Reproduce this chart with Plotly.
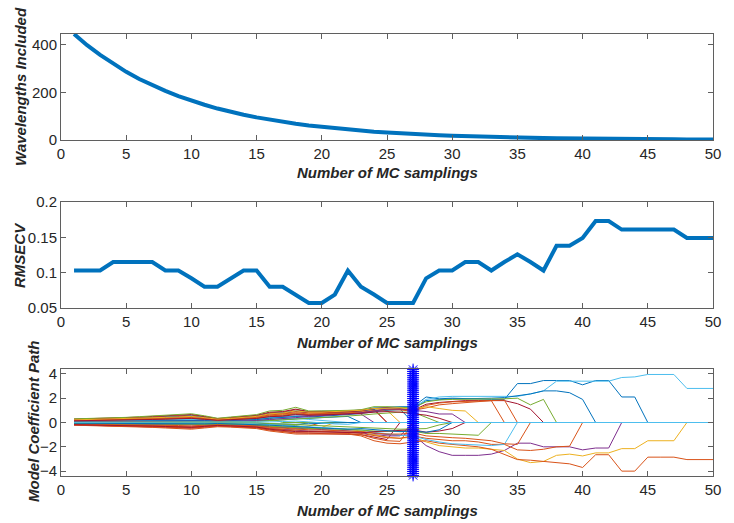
import numpy as np
import plotly.graph_objects as go

# ---------------- data ----------------
runs = list(range(1, 51))
x_ticks = list(range(0, 51, 5))

wavelengths_included = [445, 398, 357, 320, 286, 256, 230, 206, 184, 165,
                        148, 132, 118, 106, 95, 85, 76, 68, 61, 55,
                        49, 44, 39, 35, 32, 28, 25, 23, 20, 18,
                        16, 15, 13, 12, 10, 9, 8, 7, 7, 6,
                        5, 5, 4, 4, 3, 3, 3, 2, 2, 2]

rmsecv = [0.103, 0.103, 0.103, 0.115, 0.115, 0.115, 0.115, 0.103, 0.103, 0.092,
          0.080, 0.080, 0.092, 0.103, 0.103, 0.080, 0.080, 0.069, 0.057, 0.057,
          0.069, 0.103, 0.080, 0.069, 0.057, 0.057, 0.057, 0.092, 0.103, 0.103,
          0.115, 0.115, 0.103, 0.115, 0.126, 0.115, 0.103, 0.138, 0.138, 0.149,
          0.173, 0.173, 0.161, 0.161, 0.161, 0.161, 0.161, 0.149, 0.149, 0.149]

optimal_run = 27

# coefficient paths: values until the variable is eliminated (then it is 0)
# band variables eliminated before the optimal run
coef_b1 = [0.04, 0.05, 0.05, 0.06, 0.07, 0.08, 0.09, 0.10, 0.11, 0.12, 0.09, 0.06, 0.08, 0.10, 0.12, 0.20, 0.22, 0.30, 0.35, 0.40, 0.45, 0.50]
coef_b2 = [0.26, 0.28, 0.30, 0.33, 0.36, 0.40, 0.45, 0.50, 0.55, 0.60, 0.47, 0.30, 0.38, 0.46, 0.55, 0.80, 0.85, 1.05, 0.88, 0.88, 0.90, 0.95, 1.00, 1.05]
coef_b3 = [-0.14, -0.15, -0.17, -0.19, -0.21, -0.23, -0.26, -0.29, -0.32, -0.35, -0.28, -0.20, -0.24, -0.28, -0.32, -0.45, -0.52, -0.60, -0.50, -0.40]
coef_b4 = [0.10, 0.11, 0.12, 0.14, 0.15, 0.17, 0.19, 0.21, 0.23, 0.25, 0.20, 0.14, 0.18, 0.22, 0.27, 0.40, 0.45, 0.55, 0.60, 0.65, 0.70, 0.75, 0.70]
coef_b5 = [-0.04, -0.04, -0.05, -0.05, -0.06, -0.07, -0.08, -0.08, -0.09, -0.10, -0.08, -0.06, -0.07, -0.09, -0.11, -0.18, -0.22, -0.25]
coef_b6 = [0.07, 0.08, 0.09, 0.10, 0.11, 0.12, 0.13, 0.15, 0.16, 0.18, 0.14, 0.10, 0.12, 0.15, 0.18, 0.28, 0.30, 0.35, 0.25, 0.15, 0.10]
coef_b7 = [-0.20, -0.22, -0.24, -0.26, -0.29, -0.32, -0.35, -0.39, -0.43, -0.47, -0.38, -0.30, -0.34, -0.38, -0.44, -0.62, -0.75, -0.85, -0.88, -0.90, -0.90, -0.92, -1.00, -1.20, -1.40]
coef_b8 = [0.24, 0.26, 0.28, 0.30, 0.33, 0.37, 0.41, 0.45, 0.50, 0.54, 0.43, 0.28, 0.36, 0.44, 0.52, 0.75, 0.80, 0.95, 0.90, 0.92, 0.92, 0.95, 1.00, 1.20, 1.20, 1.10]
coef_b9 = [-0.10, -0.10, -0.11, -0.12, -0.13, -0.14, -0.15, -0.17, -0.19, -0.21, -0.17, -0.12, -0.15, -0.18, -0.22, -0.35, -0.40, -0.45, -0.30]
coef_b10 = [0.16, 0.17, 0.19, 0.21, 0.23, 0.26, 0.29, 0.32, 0.35, 0.38, 0.30, 0.21, 0.27, 0.33, 0.40, 0.60, 0.65, 0.78, 0.75, 0.78, 0.80, 0.85, 0.90, 1.05, 1.00]
coef_b11 = [-0.15, -0.16, -0.18, -0.20, -0.22, -0.24, -0.27, -0.30, -0.33, -0.36, -0.29, -0.21, -0.25, -0.30, -0.35, -0.50, -0.58, -0.68, -0.70, -0.72, -0.75, -0.78, -0.85, -1.00, -1.10, -1.10]
coef_b12 = [0.12, 0.13, 0.14, 0.16, 0.18, 0.20, 0.22, 0.24, 0.27, 0.29, 0.23, 0.16, 0.20, 0.24, 0.28, 0.35]
coef_b13 = [0.28, 0.30, 0.33, 0.36, 0.39, 0.44, 0.50, 0.55, 0.60, 0.66, 0.50, 0.32, 0.41, 0.50, 0.60, 0.85, 0.90, 1.10, 0.90, 0.92, 0.90, 0.95, 1.00, 1.10]
coef_b14 = [-0.19, -0.21, -0.23, -0.25, -0.28, -0.31, -0.34, -0.38, -0.42, -0.45, -0.37, -0.28, -0.32, -0.36, -0.42, -0.60, -0.72, -0.85, -0.85, -0.85, -0.88, -0.90, -1.00, -1.30, -1.50, -1.55]
coef_b15 = [-0.01, -0.01, -0.02, -0.02, -0.02, -0.03, -0.03, -0.03, -0.04, -0.04, -0.03, -0.02, -0.03, -0.04, -0.05, -0.10, -0.12, -0.15, -0.10, -0.05]
coef_b16 = [0.01, 0.01, 0.01, 0.01, 0.01, 0.01, 0.01, 0.01, 0.01, 0.01, 0.01, 0.01, 0.01, 0.01, 0.02, 0.05, 0.08, 0.12, 0.05, -0.05, -0.12, -0.15]

# variables surviving past the optimal run (upper branch)
coef_u1 = [0.12, 0.13, 0.15, 0.17, 0.19, 0.21, 0.24, 0.26, 0.29, 0.31, 0.24, 0.16, 0.22, 0.28, 0.35, 0.50, 0.55, 0.70, 0.62, 0.68, 0.75, 0.85, 0.95, 1.10, 1.25, 1.30, 1.30,
           2.10, 1.95, 2.00, 1.95, 1.90, 1.90, 1.90, 3.20, 3.20, 3.45, 3.45, 3.45, 3.10, 3.45, 3.45, 2.10, 2.10]
coef_u2 = [0.10, 0.11, 0.12, 0.13, 0.15, 0.17, 0.19, 0.21, 0.23, 0.25, 0.19, 0.13, 0.17, 0.22, 0.27, 0.40, 0.42, 0.55, 0.50, 0.55, 0.62, 0.72, 0.80, 0.95, 1.10, 1.15, 1.20,
           1.90, 2.10, 2.15, 2.15, 2.15, 2.10, 2.10, 2.15, 2.35, 2.60, 3.40, 3.40, 3.40, 3.40, 3.40, 3.70, 3.75, 3.95, 3.95, 3.95, 2.80, 2.80, 2.80]
coef_u3 = [0.08, 0.09, 0.10, 0.11, 0.12, 0.14, 0.16, 0.18, 0.20, 0.22, 0.17, 0.11, 0.15, 0.19, 0.24, 0.35, 0.40, 0.48, 0.45, 0.50, 0.58, 0.65, 0.75, 0.90, 1.00, 1.05, 1.10,
           1.80, 1.90, 1.95, 1.95, 1.95, 2.00, 2.05, 2.20, 2.35, 2.60, 2.60, 2.45, 1.90]
coef_u4 = [0.30, 0.32, 0.35, 0.38, 0.42, 0.48, 0.55, 0.60, 0.66, 0.72, 0.55, 0.35, 0.45, 0.55, 0.65, 0.95, 1.00, 1.25, 0.95, 0.95, 0.95, 1.00, 1.05, 1.30, 1.30, 1.25, 1.20,
           1.70, 1.85, 1.90, 1.90, 1.90, 1.90, 1.95, 2.00, 1.45, 1.90]
coef_u5 = [0.20, 0.22, 0.24, 0.26, 0.29, 0.32, 0.36, 0.40, 0.44, 0.48, 0.38, 0.25, 0.32, 0.40, 0.48, 0.70, 0.75, 0.90, 0.80, 0.80, 0.82, 0.88, 0.95, 1.15, 1.20, 1.15, 1.00,
           1.50, 1.65, 1.75, 1.80, 1.80, 1.80, 1.80, 1.55, 1.10]
coef_u6 = [0.18, 0.20, 0.22, 0.24, 0.26, 0.29, 0.32, 0.35, 0.38, 0.41, 0.32, 0.22, 0.28, 0.35, 0.42, 0.62, 0.68, 0.80, 0.70, 0.72, 0.75, 0.80, 0.85, 1.00, 1.10, 1.05, 0.90,
           1.40, 1.60, 1.70, 1.75, 1.75, 1.80]
coef_u7 = [0.15, 0.16, 0.18, 0.20, 0.22, 0.24, 0.27, 0.30, 0.33, 0.36, 0.28, 0.19, 0.24, 0.30, 0.36, 0.55, 0.60, 0.72, 0.65, 0.68, 0.70, 0.75, 0.80, 0.95, 1.05, 1.05, 1.00,
           1.20, 1.45, 1.55, 1.65, 1.70, 1.80, 1.85]
coef_u8 = [0.05, 0.06, 0.07, 0.08, 0.09, 0.10, 0.11, 0.12, 0.13, 0.14, 0.11, 0.08, 0.10, 0.13, 0.16, 0.25, 0.30, 0.40, 0.50, 0.55, 0.60, 0.70, 0.80, 0.95, 1.10, 1.10, 1.00,
           0.90, 0.70, 0.70]
coef_u9 = [0.22, 0.24, 0.26, 0.28, 0.31, 0.34, 0.38, 0.42, 0.46, 0.50, 0.40, 0.27, 0.34, 0.42, 0.50, 0.72, 0.78, 0.95, 0.85, 0.85, 0.88, 0.92, 1.00, 1.15, 1.20, 1.20, 1.10,
           1.30, 1.15, 1.00, 0.95]
coef_u10 = [0.02, 0.02, 0.03, 0.03, 0.04, 0.04, 0.05, 0.05, 0.06, 0.06, 0.05, 0.03, 0.05, 0.07, 0.09, 0.15, 0.20, 0.28, 0.35, 0.40, 0.45, 0.55, 0.60, 0.70, 0.80, 0.85, 0.85,
            0.45]
coef_u11 = [0.14, 0.15, 0.17, 0.19, 0.21, 0.23, 0.25, 0.28, 0.31, 0.34, 0.27, 0.18, 0.23, 0.28, 0.33, 0.48, 0.52, 0.65, 0.60, 0.62, 0.65, 0.70, 0.75, 0.85, 0.90, 0.85, 0.75,
            0.60, 0.35]

# variables surviving past the optimal run (lower branch)
coef_l1 = [-0.10, -0.11, -0.12, -0.14, -0.15, -0.17, -0.19, -0.21, -0.23, -0.25, -0.20, -0.15, -0.17, -0.20, -0.24, -0.35, -0.42, -0.50, -0.55, -0.58, -0.62, -0.68, -0.75, -0.90, -1.00, -1.05, -1.00,
           -1.90, -2.40, -2.70, -2.70, -2.70, -2.60, -2.30, -1.70, -1.70, -2.00, -2.00, -2.00, -2.25, -2.10, -2.10]
coef_l2 = [-0.05, -0.06, -0.06, -0.07, -0.08, -0.09, -0.10, -0.11, -0.12, -0.13, -0.10, -0.07, -0.09, -0.11, -0.14, -0.25, -0.32, -0.40, -0.42, -0.45, -0.50, -0.55, -0.70, -1.00, -1.20, -1.30, -1.20,
           -1.60, -1.90, -2.00, -2.10, -2.10, -2.20, -2.30, -3.00, -3.30, -3.20, -2.70, -2.60, -2.75, -2.50, -2.50, -2.15, -2.15, -1.50, -1.50, -1.50]
coef_l3 = [-0.22, -0.24, -0.27, -0.30, -0.33, -0.36, -0.40, -0.45, -0.50, -0.55, -0.45, -0.35, -0.38, -0.42, -0.50, -0.70, -0.85, -0.95, -0.95, -0.95, -0.95, -0.95, -1.10, -1.50, -1.70, -1.75, -1.60,
           -1.50, -1.70, -1.80, -1.90, -2.00, -2.20, -2.60, -3.05, -3.10, -3.20, -3.30, -3.40, -3.70, -2.65, -2.65, -4.00, -4.00, -2.85, -2.85, -2.85, -3.05, -3.05, -3.05]
coef_l4 = [-0.16, -0.17, -0.19, -0.21, -0.23, -0.25, -0.28, -0.31, -0.34, -0.37, -0.30, -0.22, -0.26, -0.30, -0.35, -0.50, -0.60, -0.70, -0.72, -0.75, -0.78, -0.80, -0.90, -1.10, -1.25, -1.30, -1.10,
           -1.30, -1.40, -1.50, -1.50, -1.60, -1.80, -1.80, -2.25, -2.30, -2.20, -2.00, -1.95]
coef_l5 = [-0.02, -0.03, -0.03, -0.04, -0.04, -0.05, -0.05, -0.06, -0.06, -0.07, -0.05, -0.04, -0.05, -0.07, -0.10, -0.18, -0.25, -0.30, -0.35, -0.40, -0.45, -0.50, -0.60, -0.80, -0.95, -1.05, -1.10,
           -1.40, -1.60, -1.75, -1.80, -1.85, -1.90, -1.80]
coef_l6 = [-0.12, -0.13, -0.14, -0.16, -0.17, -0.19, -0.21, -0.23, -0.25, -0.28, -0.22, -0.16, -0.19, -0.22, -0.27, -0.40, -0.48, -0.58, -0.60, -0.62, -0.65, -0.70, -0.75, -0.85, -0.95, -0.95, -0.85,
           -1.10, -1.20, -1.25, -1.30, -1.40, -1.50, -1.75, -1.80]
coef_l7 = [-0.08, -0.09, -0.10, -0.11, -0.12, -0.13, -0.15, -0.16, -0.18, -0.19, -0.15, -0.11, -0.13, -0.16, -0.19, -0.30, -0.36, -0.45, -0.48, -0.50, -0.52, -0.58, -0.62, -0.70, -0.75, -0.75, -0.70,
           -0.90, -0.90, -0.95, -1.00, -1.05]
coef_l8 = [0.00, 0.00, 0.01, 0.01, 0.01, 0.02, 0.02, 0.02, 0.02, 0.03, 0.02, 0.01, 0.01, 0.00, -0.02, -0.08, -0.12, -0.18, -0.22, -0.25, -0.30, -0.35, -0.40, -0.45, -0.50, -0.55, -0.50,
           -0.50, -0.20]
coef_l9 = [-0.18, -0.19, -0.21, -0.23, -0.25, -0.27, -0.30, -0.33, -0.36, -0.40, -0.32, -0.24, -0.28, -0.33, -0.38, -0.55, -0.62, -0.75, -0.75, -0.78, -0.80, -0.82, -0.85, -0.75, -0.70, -0.65, -0.60,
           -0.80, -0.70, -0.50]
coef_l10 = [-0.06, -0.07, -0.08, -0.08, -0.09, -0.10, -0.11, -0.12, -0.13, -0.14, -0.11, -0.08, -0.10, -0.12, -0.15, -0.22, -0.28, -0.35, -0.40, -0.45, -0.50, -0.55, -0.50, -0.60, -0.70, -0.75, -0.70,
            -0.80, -0.60]

# MATLAB default colour order
C_BLUE, C_ORANGE, C_YELLOW, C_PURPLE = "#0072BD", "#D95319", "#EDB120", "#7E2F8E"
C_GREEN, C_LBLUE, C_DRED = "#77AC30", "#4DBEEE", "#A2142F"

path_values = [coef_b1, coef_b2, coef_b3, coef_b4, coef_b5, coef_b6, coef_b7, coef_b8,
               coef_b9, coef_b10, coef_b11, coef_b12, coef_b13, coef_b14, coef_b15,
               coef_l1, coef_l2, coef_l3, coef_l4, coef_l5, coef_l6, coef_l7, coef_l8, coef_l9, coef_l10,
               coef_u1, coef_u2, coef_u3, coef_u4, coef_u5, coef_u6, coef_u7, coef_u8, coef_u9, coef_u10, coef_u11,
               coef_b16]
path_colors = [C_BLUE, C_ORANGE, C_YELLOW, C_PURPLE, C_GREEN, C_LBLUE, C_DRED, C_BLUE,
               C_ORANGE, C_YELLOW, C_PURPLE, C_GREEN, C_DRED, C_ORANGE, C_BLUE,
               C_PURPLE, C_YELLOW, C_ORANGE, C_ORANGE, C_LBLUE, C_ORANGE, C_GREEN, C_GREEN, C_DRED, C_BLUE,
               C_BLUE, C_LBLUE, C_BLUE, C_GREEN, C_DRED, C_ORANGE, C_ORANGE, C_PURPLE, C_YELLOW, C_GREEN, C_DRED,
               C_LBLUE]

# ---------------- figure ----------------
W, H = 734, 523
L, R = 61, 21
FONT = "Liberation Sans, Arial, sans-serif"
AX_COLOR = "#5f5f5f"
TXT_COLOR = "#262626"

def pyfrac(py):
    return 1 - py / H

def pxfrac(px):
    return (px - L) / (W - L - R)

fig = go.Figure()

# top: wavelengths
fig.add_trace(go.Scatter(x=runs, y=wavelengths_included, mode="lines",
                         line=dict(color=C_BLUE, width=4), xaxis="x", yaxis="y",
                         showlegend=False, hoverinfo="skip"))
# middle: RMSECV
fig.add_trace(go.Scatter(x=runs, y=rmsecv, mode="lines",
                         line=dict(color=C_BLUE, width=4), xaxis="x2", yaxis="y2",
                         showlegend=False, hoverinfo="skip"))
# bottom: coefficient paths
for vals, col in zip(path_values, path_colors):
    full = list(vals) + [0.0] * (len(runs) - len(vals))
    fig.add_trace(go.Scatter(x=runs, y=full, mode="lines",
                             line=dict(color=col, width=1), xaxis="x3", yaxis="y3",
                             showlegend=False, hoverinfo="skip"))

coef_range = [-4.4, 4.4]
marker_y = np.linspace(coef_range[0] + 0.05, coef_range[1] - 0.05, 56)
fig.add_trace(go.Scatter(x=[optimal_run] * len(marker_y), y=marker_y, mode="lines+markers",
                         line=dict(color="#0000FF", width=1.5),
                         marker=dict(symbol="asterisk-open", size=10,
                                     line=dict(color="#0000FF", width=1)),
                         xaxis="x3", yaxis="y3", showlegend=False, hoverinfo="skip",
                         cliponaxis=False))

common_x = dict(range=[0, 50], tickvals=x_ticks, ticks="inside", ticklen=5, tickwidth=1,
                tickcolor=AX_COLOR, showline=True, linecolor=AX_COLOR, linewidth=1,
                mirror="ticks", showgrid=False, zeroline=False,
                tickfont=dict(family=FONT, size=15, color=TXT_COLOR))
common_y = dict(ticks="inside", ticklen=5, tickwidth=1, tickcolor=AX_COLOR,
                showline=True, linecolor=AX_COLOR, linewidth=1, mirror="ticks",
                showgrid=False, zeroline=False,
                tickfont=dict(family=FONT, size=15, color=TXT_COLOR))

dom1 = [pyfrac(140), pyfrac(34)]
dom2 = [pyfrac(308), pyfrac(202)]
dom3 = [pyfrac(476), pyfrac(369)]

fig.update_layout(
    width=W, height=H,
    margin=dict(l=L, r=R, t=0, b=0, autoexpand=False),
    paper_bgcolor="white", plot_bgcolor="white",
    xaxis=dict(common_x, anchor="y", domain=[0, 1]),
    yaxis=dict(common_y, anchor="x", domain=dom1, range=[0, 445], tickvals=[0, 200, 400]),
    xaxis2=dict(common_x, anchor="y2", domain=[0, 1]),
    yaxis2=dict(common_y, anchor="x2", domain=dom2, range=[0.05, 0.2],
                tickvals=[0.05, 0.1, 0.15, 0.2], ticktext=["0.05", "0.1", "0.15", "0.2"]),
    xaxis3=dict(common_x, anchor="y3", domain=[0, 1]),
    yaxis3=dict(common_y, anchor="x3", domain=dom3, range=coef_range, tickvals=[-4, -2, 0, 2, 4]),
)

title_font = dict(family=FONT, size=15, color=TXT_COLOR)
x_title = "<b><i>Number of MC samplings</i></b>"
annotations = []
for py in (173, 342, 510):
    annotations.append(dict(text=x_title, x=pxfrac(387), y=pyfrac(py), xref="paper", yref="paper",
                            xanchor="center", yanchor="middle", showarrow=False, font=title_font))
for txt, px, py in (("Wavelengths Included", 21, 87), ("RMSECV", 19, 255),
                    ("Model Coefficient Path", 33, 422)):
    annotations.append(dict(text="<b><i>" + txt + "</i></b>", x=pxfrac(px), y=pyfrac(py),
                            xref="paper", yref="paper", xanchor="center", yanchor="middle",
                            textangle=-90, showarrow=False, font=title_font))
fig.update_layout(annotations=annotations)

fig.write_html("out.html")
